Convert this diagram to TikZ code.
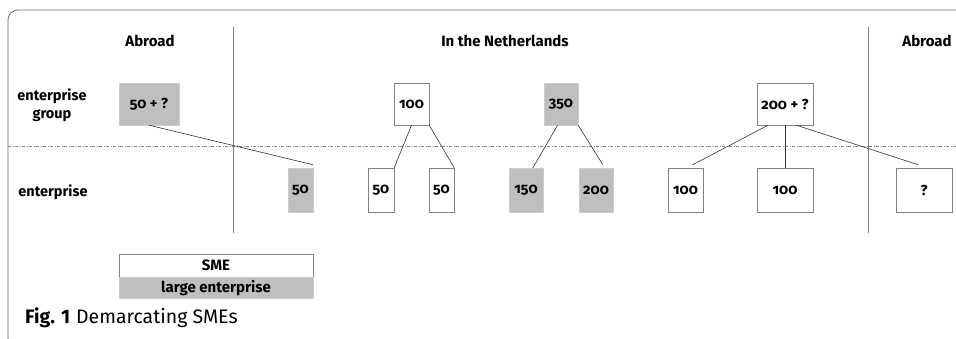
\documentclass[tikz,border=0pt]{standalone}
\usepackage{fontspec}
\setmainfont{Fira Sans}[Numbers=OldStyle]
\newfontfamily\capfont{Fira Sans}
\usetikzlibrary{calc,positioning}
\definecolor{boxgrey}{RGB}{191,191,191}
\definecolor{framegrey}{RGB}{105,105,105}

\begin{document}
\begin{tikzpicture}[x=1pt, y=-1pt,
  unit/.style={rectangle, draw=gray, fill=white, inner sep=0pt, minimum width=#1, align=center, font=\bfseries\fontsize{14.5}{17}\selectfont},
  large/.style={fill=boxgrey, draw=boxgrey!80},
  grp/.style={minimum height=42pt},
  ent/.style={minimum height=44pt},
  heading/.style={font=\bfseries\fontsize{15}{18}\selectfont},
  level/.style={font=\bfseries\fontsize{14.5}{18}\selectfont, align=center},
  link/.style={draw=black!80, line width=0.6pt}]

\useasboundingbox (0,0) rectangle (956,339);

% FRAME

\draw[framegrey, line width=0.8pt, rounded corners=10pt] (960,10) -- (8,10) -- (8,348) -- (40,348);

% HEADINGS

\node[heading] (abroadleft) at (150,41) {Abroad};
\node[heading] (netherlands) at (505,41) {In the Netherlands};
\node[heading] (abroadright) at (927,41) {Abroad};

\node[level] (grouplevel) at (52,105) {enterprise\\group};
\node[level] (entlevel) at (53,192) {enterprise};

% BORDERS

\coordinate (borderAtop) at (233,27);
\coordinate (borderAbot) at (233,233);
\coordinate (borderBtop) at (868,27);
\coordinate (borderBbot) at (868,233);
\coordinate (levelleft) at (8,146);
\coordinate (levelright) at (956,146);

\draw[gray, line width=0.6pt] (borderAtop) -- (borderAbot);
\draw[gray, line width=0.6pt] (borderBtop) -- (borderBbot);
\draw[gray, line width=0.5pt, dash pattern=on 3pt off 1.5pt on 1pt off 1.5pt] (levelleft) -- (levelright);

% ENTERPRISE GROUPS

\node[unit=60pt, grp, large] (grpA) at (149,104) {50 + ?};
\node[unit=35pt, grp] (grpB) at (411.5,104) {100};
\node[unit=34pt, grp, large] (grpC) at (561,104) {350};
\node[unit=56pt, grp] (grpD) at (785,104) {200 + ?};

% ENTERPRISES

\node[unit=25pt, ent, large] (entA) at (300.5,190) {50};
\node[unit=26pt, ent] (entB1) at (381,190) {50};
\node[unit=25pt, ent] (entB2) at (441.5,190) {50};
\node[unit=34pt, ent, large] (entC1) at (526,190) {150};
\node[unit=34pt, ent, large] (entC2) at (596,190) {200};
\node[unit=35pt, ent] (entD1) at (685.5,190) {100};
\node[unit=56pt, ent] (entD2) at (785,190) {100};
\node[unit=56pt, ent] (entD3) at (924,190) {?};

% OWNERSHIP

\draw[link] (grpA.south) -- ($(entA.north east)+(0,-3)$);
\draw[link] (grpB.south) -- (entB1.north east);
\draw[link] (grpB.south east) -- (entB2.north east);
\draw[link] ($(grpC.south west)!0.4!(grpC.south east)$) -- ($(entC1.north west)!0.7!(entC1.north east)$);
\draw[link] (grpC.south east) -- ($(entC2.north west)!0.7!(entC2.north east)+(0,-3)$);
\draw[link] ($(grpD.south west)!0.2!(grpD.south east)$) -- ($(entD1.north west)!0.7!(entD1.north east)+(0,-3)$);
\draw[link] (grpD.south) -- (entD2.north);
\draw[link] ($(grpD.south west)!0.7!(grpD.south east)$) -- ($(entD3.north west)!0.4!(entD3.north east)+(0,-3)$);

% LEGEND

\node[unit=194pt, minimum height=23pt, font=\bfseries\fontsize{15}{18}\selectfont] (legendsme) at (216,265.5) {SME};
\node[unit=194pt, large, minimum height=21pt, below=0pt of legendsme, font=\bfseries\fontsize{15}{18}\selectfont] (legendlarge) {large enterprise};

% CAPTION

\node[anchor=base west, inner sep=0pt, font=\capfont\fontsize{19.5}{23}\selectfont] (caption) at (25,323) {\textbf{Fig. 1}\hspace{0.3em}Demarcating SMEs};

\end{tikzpicture}
\end{document}
